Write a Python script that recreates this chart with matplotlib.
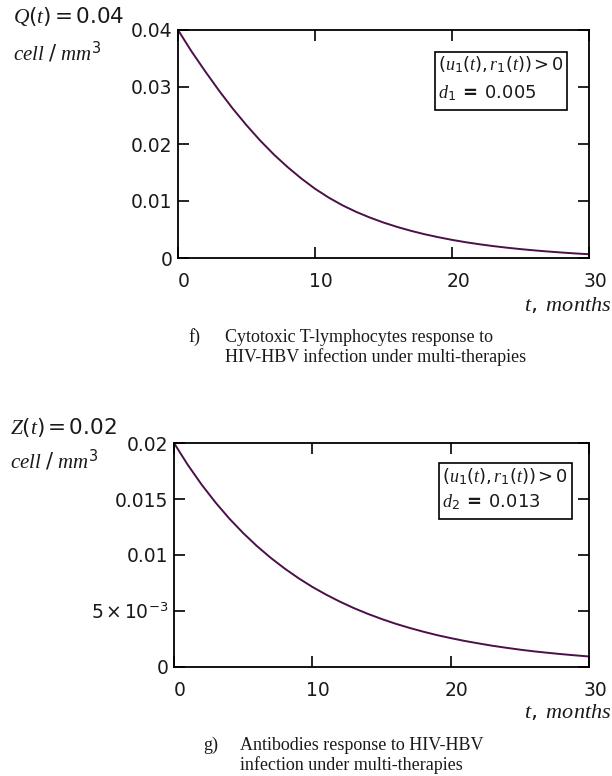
import matplotlib
matplotlib.use("Agg")
import matplotlib.pyplot as plt
from matplotlib.patches import Rectangle
from matplotlib.transforms import ScaledTranslation

# ---- data -------------------------------------------------------------
months = list(range(0, 31))

# Cytotoxic T-lymphocytes Q(t), cell/mm^3
q_values = [0.04000, 0.03620, 0.03270, 0.02935, 0.02620, 0.02330, 0.02060,
            0.01815, 0.01595, 0.01395, 0.01215, 0.01060, 0.00925, 0.00810,
            0.00710, 0.00622, 0.00545, 0.00477, 0.00417, 0.00365, 0.00318,
            0.00277, 0.00241, 0.00209, 0.00181, 0.00156, 0.00134, 0.00114,
            0.00096, 0.00080, 0.00066]

# Antibodies Z(t), cell/mm^3
z_values = [0.02000, 0.01804, 0.01628, 0.01469, 0.01325, 0.01196, 0.01079,
            0.00974, 0.00879, 0.00793, 0.00715, 0.00646, 0.00583, 0.00526,
            0.00475, 0.00429, 0.00387, 0.00350, 0.00316, 0.00285, 0.00258,
            0.00233, 0.00211, 0.00190, 0.00172, 0.00155, 0.00140, 0.00127,
            0.00115, 0.00104, 0.00094]

x_ticks = [0, 10, 20, 30]
x_tick_labels = ["0", "10", "20", "30"]

q_ticks = [0, 0.01, 0.02, 0.03, 0.04]
q_tick_labels = ["0", "0.01", "0.02", "0.03", "0.04"]

z_ticks = [0, 0.005, 0.01, 0.015, 0.02]
z_tick_labels = ["0", r"$5\times10^{-3}$", "0.01", "0.015", "0.02"]

# ---- style ------------------------------------------------------------
plt.rcParams["font.family"] = ["DejaVu Sans"]
plt.rcParams["mathtext.fontset"] = "custom"
plt.rcParams["mathtext.it"] = "Liberation Serif:italic"
plt.rcParams["mathtext.rm"] = "DejaVu Sans"
plt.rcParams["mathtext.bf"] = "DejaVu Sans:bold"

W, H = 612, 776
LINE_COLOR = "#4a1048"
TXT = "#1a1a1a"

fig = plt.figure(figsize=(W / 100, H / 100), dpi=100)


def fx(px):
    return px / W


def fy(py):
    return 1 - py / H


def panel(left, right, top, bottom, values, yticks, ylabels, ymax):
    ax = fig.add_axes([fx(left), fy(bottom), fx(right - left), (bottom - top) / H])
    ax.plot(months, values, color=LINE_COLOR, lw=1.4, solid_joinstyle="round")
    ax.set_xlim(0, 30)
    ax.set_ylim(0, ymax)
    ax.set_xticks(x_ticks)
    ax.set_xticklabels(x_tick_labels)
    ax.set_yticks(yticks)
    ax.set_yticklabels(ylabels)
    for s in ax.spines.values():
        s.set_linewidth(1.3)
        s.set_color("black")
    ax.tick_params(axis="both", direction="in", length=8, width=1.2,
                   top=True, right=True, labelsize=13.5, colors="black",
                   labelcolor=TXT)
    ax.tick_params(axis="x", pad=10)
    ax.tick_params(axis="y", pad=4)
    shift = ScaledTranslation(6 / 100, 0, fig.dpi_scale_trans)
    for lab in ax.get_xticklabels():
        lab.set_transform(lab.get_transform() + shift)
    return ax


def note_box(left, right, top, bottom, line1, line2, y1, y2):
    fig.add_artist(Rectangle((fx(left), fy(bottom)), fx(right - left), (bottom - top) / H,
                             transform=fig.transFigure, fill=False,
                             edgecolor="black", lw=1.2))
    fig.text(fx(left + 3), fy(y1), line1, fontsize=13, color=TXT, va="center", ha="left")
    fig.text(fx(left + 3), fy(y2), line2, fontsize=13, color=TXT, va="center", ha="left")


def caption(tag, x_tag, x_text, y1, y2, line1, line2):
    kw = dict(fontsize=13, color=TXT, va="center", family="Liberation Serif")
    fig.text(fx(x_tag), fy(y1), tag, **kw)
    fig.text(fx(x_text), fy(y1), line1, **kw)
    fig.text(fx(x_text), fy(y2), line2, **kw)


# ---- panel f) ---------------------------------------------------------
panel(178, 589, 30, 258, q_values, q_ticks, q_tick_labels, 0.04)
fig.text(fx(13), fy(17), r"$Q(t) = 0.04$", fontsize=15.5, color=TXT, va="center")
fig.text(fx(13), fy(52), r"$cell\ /\ mm^3$", fontsize=15, color=TXT, va="center")
note_box(435, 567, 52, 110, r"$(u_1(t), r_1(t)) > 0$", r"$d_1\ \mathbf{=}\ 0.005$", 65, 93)
fig.text(fx(611), fy(305), r"$t,\ months$", fontsize=16, color=TXT, va="center", ha="right")
caption("f)", 188, 225, 337, 357, "Cytotoxic T-lymphocytes response to",
        "HIV-HBV infection under multi-therapies")

# ---- panel g) ---------------------------------------------------------
panel(174, 589, 443, 667, z_values, z_ticks, z_tick_labels, 0.02)
fig.text(fx(10), fy(427), r"$Z(t) = 0.02$", fontsize=15.5, color=TXT, va="center")
fig.text(fx(10), fy(460), r"$cell\ /\ mm^3$", fontsize=15, color=TXT, va="center")
note_box(439, 572, 463, 519, r"$(u_1(t), r_1(t)) > 0$", r"$d_2\ \mathbf{=}\ 0.013$", 477, 502)
fig.text(fx(611), fy(712), r"$t,\ months$", fontsize=16, color=TXT, va="center", ha="right")
caption("g)", 203, 240, 745, 765, "Antibodies response to HIV-HBV",
        "infection under multi-therapies")

fig.savefig("out.png", dpi=100, facecolor="white")
